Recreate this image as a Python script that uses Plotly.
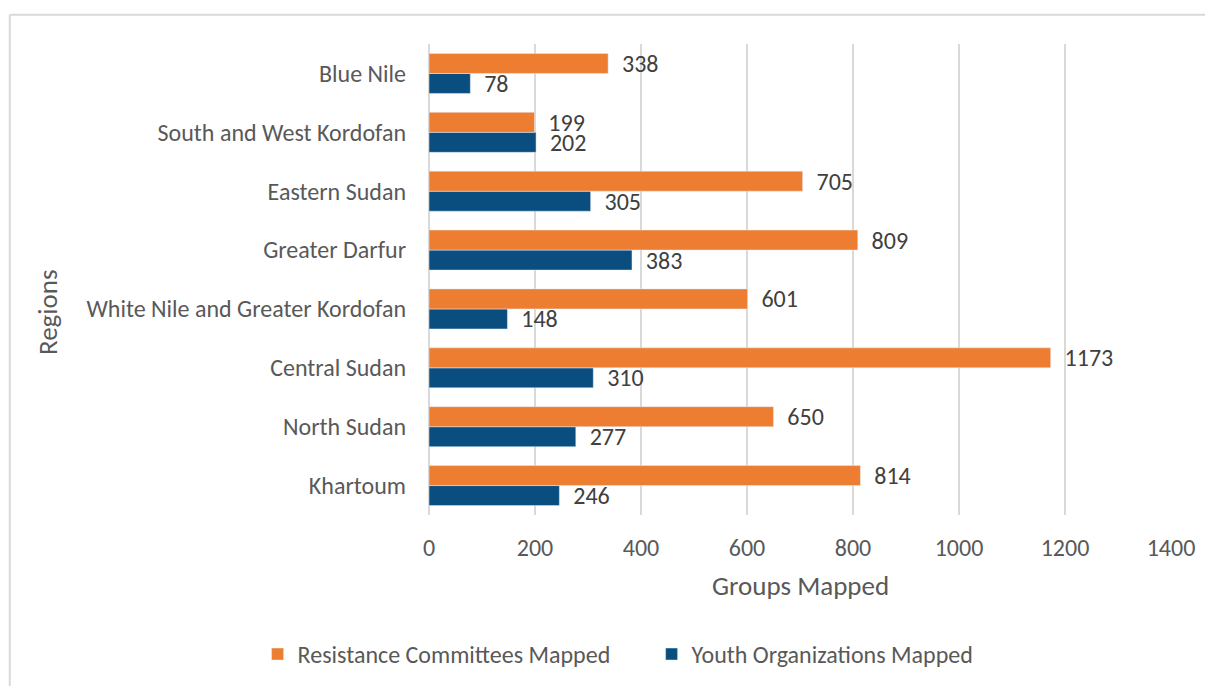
import plotly.graph_objects as go

regions = ["Khartoum", "North Sudan", "Central Sudan", "White Nile and Greater Kordofan",
           "Greater Darfur", "Eastern Sudan", "South and West Kordofan", "Blue Nile"]
resistance = [814, 650, 1173, 601, 809, 705, 199, 338]
youth = [246, 277, 310, 148, 383, 305, 202, 78]
x_ticks = [0, 200, 400, 600, 800, 1000, 1200, 1400]

FONT = "Carlito, Calibri, Lato, sans-serif"
ORANGE = "#ED7D31"
BLUE = "#0A4E80"

fig = go.Figure()
fig.add_trace(go.Bar(
    y=regions, x=youth, orientation="h", name="Youth Organizations Mapped",
    marker=dict(color=BLUE), text=youth, texttemplate="  %{x}",
    textposition="outside", constraintext="none", cliponaxis=False,
    textfont=dict(family=FONT, size=24, color="#404040"), legendrank=2,
))
fig.add_trace(go.Bar(
    y=regions, x=resistance, orientation="h", name="Resistance Committees Mapped",
    marker=dict(color=ORANGE), text=resistance, texttemplate="  %{x}",
    textposition="outside", constraintext="none", cliponaxis=False,
    textfont=dict(family=FONT, size=24, color="#404040"), legendrank=1,
))

fig.update_layout(
    width=1213, height=686, autosize=False,
    margin=dict(l=421, r=50, t=36, b=179),
    paper_bgcolor="white", plot_bgcolor="white",
    barmode="group", bargap=0.32, bargroupgap=0,
    font=dict(family=FONT, size=24, color="#595959"),
    showlegend=True,
    legend=dict(orientation="h", x=-0.231, y=-0.296, xanchor="left", yanchor="middle",
                font=dict(family=FONT, size=24, color="#595959"),
                entrywidth=349, entrywidthmode="pixels", traceorder="normal"),
    xaxis=dict(range=[0, 1400], tickvals=x_ticks, showgrid=True, gridcolor="#D9D9D9",
               gridwidth=1.5, zeroline=True, zerolinecolor="#D9D9D9", zerolinewidth=1.5,
               showline=False, ticks="", ticklabelstandoff=16,
               tickfont=dict(family=FONT, size=24, color="#595959")),
    yaxis=dict(categoryorder="array", categoryarray=regions, showgrid=False,
               showline=False, ticks="", ticklabelstandoff=22,
               tickfont=dict(family=FONT, size=24, color="#595959")),
    annotations=[
        dict(text="Groups Mapped", xref="paper", yref="paper", x=0.5, y=0,
             xanchor="center", yanchor="middle", yshift=-70, showarrow=False,
             font=dict(family=FONT, size=27, color="#595959")),
        dict(text="Regions", xref="paper", yref="paper", x=0, y=0.431,
             xanchor="center", yanchor="middle", xshift=-381, textangle=-90,
             showarrow=False, font=dict(family=FONT, size=27, color="#595959")),
    ],
    shapes=[
        dict(type="line", xref="paper", yref="paper", x0=-0.565, x1=1.1, y0=1.062, y1=1.062,
             line=dict(color="#D9D9D9", width=2)),
        dict(type="line", xref="paper", yref="paper", x0=-0.565, x1=-0.565, y0=1.062, y1=-0.4,
             line=dict(color="#D9D9D9", width=2)),
    ],
)

fig.write_html("out.html")
